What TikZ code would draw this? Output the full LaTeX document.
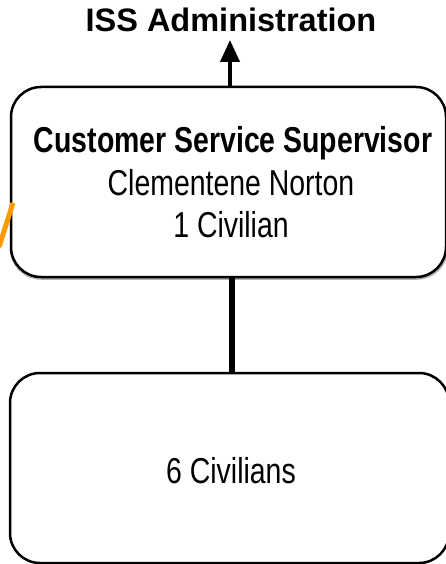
\documentclass[tikz,border=0pt]{standalone}
\usepackage{fontspec}
\setmainfont{Liberation Sans}
\newfontfamily\narrowfont[FakeStretch=0.79]{Liberation Sans}
\usetikzlibrary{arrows.meta}
\begin{document}
\begin{tikzpicture}[x=1pt,y=-1pt,
  orgbox/.style={draw=black, line width=2.5pt, rounded corners=30pt, fill=white},
  boxshade/.style={draw=black!30, line width=2.5pt, rounded corners=30pt},
  narrowtext/.style={font=\narrowfont\fontsize{36}{42}\selectfont, anchor=base},
  link/.style={line width=6pt, draw=black}]
\useasboundingbox (0,0) rectangle (445,564);
% soft shade under the unit boxes
\draw[boxshade] (11,89.5) rectangle (447,278.5);
% unit boxes
\draw[orgbox] (11,87) rectangle (446,277);
\draw[orgbox] (10,373) rectangle (449,563);
\coordinate (topmid) at (230,87);
\coordinate (issbot) at (230,40);
\coordinate (supbot) at (232,277);
\coordinate (civtop) at (232,373);
% labels
\node[font=\bfseries\fontsize{32.5}{36}\selectfont, anchor=base] (iss) at (231,32) {ISS Administration};
\node[narrowtext] (suptitle) at (233,153) {\bfseries Customer Service Supervisor};
\node[narrowtext] (supname) at (231,195) {Clementene Norton};
\node[narrowtext] (supcount) at (231,237) {1 Civilian};
\node[narrowtext] (civ) at (231,483) {6 Civilians};
% connectors
\draw[line width=4pt, -{Triangle[length=22pt,width=19pt]}] (topmid) -- (issbot);
\draw[link] (supbot) -- (civtop);
% orange stroke at left edge
\draw[line width=5pt, draw={rgb,255:red,255;green,153;blue,0}] (13,203) -- (-1,247);
\end{tikzpicture}
\end{document}
